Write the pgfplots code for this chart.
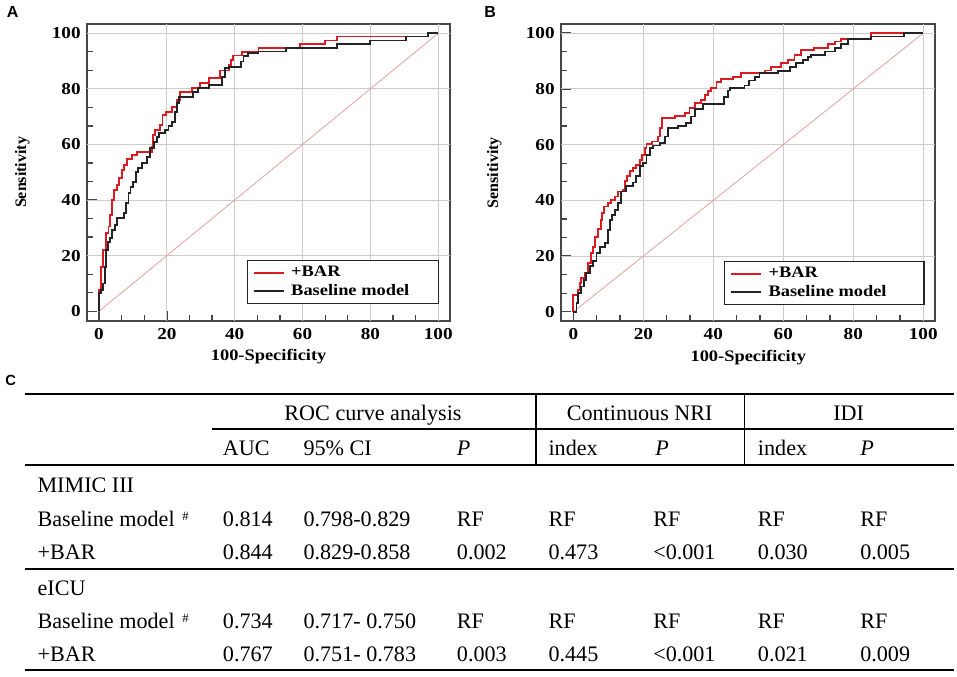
\documentclass[border=0pt]{standalone}
\usepackage{fontspec}
\setmainfont{Liberation Serif}
\newfontfamily\plotfont[FakeStretch=1.15]{Liberation Serif}
\newfontfamily\panelfont{Liberation Sans}
\usepackage{pgfplots}
\pgfplotsset{compat=1.18}

\definecolor{rocred}{RGB}{218,28,34}
\definecolor{rocblack}{RGB}{35,35,35}
\definecolor{diag}{RGB}{226,160,160}
\definecolor{frame}{RGB}{70,70,70}

\pgfplotsset{
  rocaxis/.style={
    scale only axis, anchor=south west,
    xmin=-3.45, xmax=103.45, ymin=-3.4, ymax=103.3,
    xtick={0,20,...,100}, ytick={0,20,...,100}, minor tick num=2,
    tick align=inside, tick pos=left,
    major tick length=7.5pt, minor tick length=4.5pt,
    axis line style={draw=frame, line width=1.4pt},
    every tick/.append style={draw=frame, line width=1pt},
    extra x ticks={20,40,60,80,100}, extra y ticks={20,40,60,80,100},
    extra x tick labels={}, extra y tick labels={},
    extra tick style={grid=major, major tick length=0pt},
    major grid style={draw=black!20, line width=0.7pt},
    ticklabel style={font=\plotfont\bfseries\fontsize{12.5pt}{14pt}\selectfont},
    /pgf/number format/assume math mode=true,
    xticklabel style={yshift=-2pt},
    yticklabel style={xshift=-1.5pt},
    xlabel={100-Specificity}, ylabel={Sensitivity},
    xlabel style={font=\plotfont\bfseries\fontsize{12pt}{14pt}\selectfont,
      at={(axis description cs:0.5,0)}, anchor=north, inner sep=0pt, yshift=-21.5pt},
    ylabel style={font=\bfseries\fontsize{12pt}{14pt}\selectfont,
      at={(axis description cs:-0.179,0.5)}, anchor=center, inner sep=0pt},
    legend cell align=left,
    legend image code/.code={\draw[##1, line width=1.4pt] (0pt,0pt) -- (22.5pt,0pt);},
    legend style={anchor=south west, draw=rocblack, line width=1pt,
      font=\plotfont\bfseries\fontsize{12pt}{14pt}\selectfont,
      inner xsep=4pt, inner ysep=2.5pt, column sep=3pt},
  }
}

\tikzset{
  tab/.style={anchor=base west, inner sep=0pt, font=\fontsize{16.6pt}{18pt}\selectfont},
  tabc/.style={anchor=base, inner sep=0pt, font=\fontsize{16.6pt}{18pt}\selectfont},
  hash/.style={anchor=base west, inner sep=0pt, font=\fontsize{9.5pt}{9.5pt}\selectfont},
}

\begin{document}
\begin{tikzpicture}[x=0.75pt, y=0.75pt]
\path[use as bounding box] (0,0) rectangle (957,676);

% panel A
\begin{axis}[rocaxis, at={(65.475pt,266.475pt)}, width=272pt, height=222.5pt,
  legend style={at={(0.4395,0.0563)}}]
\addplot[diag, line width=0.6pt, forget plot] coordinates {(0,0) (100,100)};
\addplot[rocred, line width=1.4pt, const plot] coordinates {
(0,0) (0,7.7) (0.6,16) (1.3,22) (2,28) (2.8,30.5) (3.2,34.6) (3.9,40) (4.5,43.6)
(5.2,45.4) (5.9,47.8) (6.7,50.8) (7.4,52.6) (8.2,54.7) (9.8,56.2) (11.3,57.4)
(15.5,59.2) (16,63.4) (16.5,65.2) (18,67) (18.7,70.6) (19.7,71.8) (21.4,73.4)
(22.9,76) (23.9,78.7) (27.5,80.2) (29.8,82) (32.3,83.8) (35.7,86.6) (38.2,88.6)
(38.9,90.4) (39.6,92) (42.1,93.2) (47,94.6) (59.3,96.2) (66.7,97.4) (70.1,98.8)
(97,100) (100,100)};
\addlegendentry{+BAR}
\addplot[rocblack, line width=1.4pt, const plot] coordinates {
(0,0) (0,6.5) (0.6,7.7) (1.3,10) (1.8,16) (2,22) (2.6,25) (3.2,26.3) (3.9,29.3)
(4.7,31) (5.4,33.5) (7.4,35.3) (8,38.8) (8.7,42.4) (9.3,44.8) (10.1,46.6)
(10.9,50.2) (11.6,51.4) (12.6,53.2) (14.1,55.6) (15,58.6) (16.2,61) (17.2,62.8)
(17.8,64) (19.5,65.2) (20.5,66.7) (21.4,68.2) (22.4,71.8) (22.9,74.8) (23.7,77.2)
(27.8,78.7) (29.3,80.2) (32.3,81.4) (36.2,84.4) (37.2,87.4) (38.2,88) (41.8,89.8)
(42.6,91.8) (43.8,92.8) (47,93.4) (55.2,94.8) (70.1,96) (79.9,97.4) (90.6,98.8)
(97,100) (100,100)};
\addlegendentry{Baseline model\rule{16pt}{0pt}}
\end{axis}

% panel B
\begin{axis}[rocaxis, at={(420.975pt,266.025pt)}, width=280.5pt, height=223pt,
  legend style={at={(0.435,0.055)}}]
\addplot[diag, line width=0.6pt, forget plot] coordinates {(0,0) (100,100)};
\addplot[rocred, line width=1.4pt, const plot] coordinates {
(0,0) (0,6.1) (1.3,7.9) (1.8,10.3) (2.3,12.1) (3.2,13.9) (4.2,17.5) (5.1,21)
(5.6,23.4) (6.3,26.8) (7,29.8) (7.8,32.8) (8.2,35.4) (8.8,37.8) (9.9,39)
(10.7,40.2) (11.8,41.4) (12.8,43.2) (14.2,43.8) (14.7,46.8) (15.4,48.6)
(16.1,50.4) (17,51.6) (18,52.8) (19,54.5) (19.6,56.3) (20.4,58.7) (20.9,60.3)
(22.5,61.1) (24.2,62.9) (24.7,65.9) (25.3,69.5) (29,70.3) (31.8,71.3) (33.2,73)
(34.7,74.9) (36.6,76.1) (37.5,77.9) (38.5,79.1) (39.4,80.3) (40.9,82.4)
(42.3,83.4) (45.6,84.2) (48,85.6) (54.7,86.6) (56.6,88) (59.4,89.2) (61.3,90.4)
(63.2,92.2) (65.1,94) (68.9,94.6) (72.7,96.1) (74.7,97) (76.6,97.8) (85.1,100)
(100,100)};
\addlegendentry{+BAR}
\addplot[rocblack, line width=1.4pt, const plot] coordinates {
(0,0) (0.9,3.1) (1.3,6.7) (2.3,9.1) (3,11.5) (3.7,13.9) (4.7,16.3) (5.6,18.1)
(6.6,21) (7.5,23.4) (9,24.6) (9.8,29.4) (10.5,33) (11,34.8) (11.8,36.6)
(12.8,39) (13.7,43.2) (15.1,45) (17,46.4) (18,48.6) (19,52.2) (20,53.4)
(20.9,56.3) (21.9,58.7) (22.8,59.7) (24.7,60.5) (26.1,62.9) (27,65.9)
(29.9,66.7) (32.3,67.7) (33.5,70.1) (34.7,72.7) (37,74.6) (43.1,77) (44.3,79.4)
(44.8,80.4) (48.9,81.2) (50.3,83) (51.8,84.2) (53.2,85.6) (58.5,86.4) (61.8,88)
(63.7,89.2) (65.6,90.4) (67,91.6) (68,92.2) (71.8,93.4) (74.7,94.6) (76.6,96.2)
(78.6,97.8) (85.1,98.8) (94.6,100) (100,100)};
\addlegendentry{Baseline model\rule{22pt}{0pt}}
\end{axis}

% panel letters
\node[anchor=north west, inner sep=0pt, font=\panelfont\bfseries\fontsize{12pt}{12pt}\selectfont] at (6.7,669.3) {A};
\node[anchor=north west, inner sep=0pt, font=\panelfont\bfseries\fontsize{12pt}{12pt}\selectfont] at (484,669.3) {B};
\node[anchor=north west, inner sep=0pt, font=\panelfont\bfseries\fontsize{11pt}{11pt}\selectfont] at (5,301) {C};

% table C rules
\draw[line width=1.5pt] (25,281.7) -- (954,281.7);
\draw[line width=1.1pt] (211.7,247) -- (954,247);
\draw[line width=1.5pt] (25,211) -- (954,211);
\draw[line width=1.1pt] (25,107) -- (954,107);
\draw[line width=1.5pt] (25,6) -- (954,6);
\draw[line width=1.2pt] (536,281.7) -- (536,211);
\draw[line width=1.2pt] (744.3,281.7) -- (744.3,211);

% table C headers
\node[tabc] at (373,256) {ROC curve analysis};
\node[tabc] at (639.7,256) {Continuous NRI};
\node[tabc] at (848.7,256) {IDI};
\node[tab] at (222.7,220.3) {AUC};
\node[tab] at (303.3,220.3) {95\% CI};
\node[tab] at (456.7,220.3) {\textit{P}};
\node[tab] at (548.3,220.3) {index};
\node[tab] at (655,220.3) {\textit{P}};
\node[tab] at (757.7,220.3) {index};
\node[tab] at (860,220.3) {\textit{P}};

% table C body
\node[tab] at (37.3,183.3) {MIMIC III};
\node[tab] at (37.3,150) {Baseline model};
\node[hash] at (182,156) {\#};
\node[tab] at (222.7,150) {0.814};
\node[tab] at (303.3,150) {0.798-0.829};
\node[tab] at (456.7,150) {RF};
\node[tab] at (548.3,150) {RF};
\node[tab] at (653,150) {RF};
\node[tab] at (757.7,150) {RF};
\node[tab] at (860,150) {RF};
\node[tab] at (37.3,116.7) {+BAR};
\node[tab] at (222.7,116.7) {0.844};
\node[tab] at (303.3,116.7) {0.829-0.858};
\node[tab] at (456.7,116.7) {0.002};
\node[tab] at (548.3,116.7) {0.473};
\node[tab] at (653,116.7) {<0.001};
\node[tab] at (757.7,116.7) {0.030};
\node[tab] at (860,116.7) {0.005};

\node[tab] at (37.3,81) {eICU};
\node[tab] at (37.3,47.7) {Baseline model};
\node[hash] at (182,53.7) {\#};
\node[tab] at (222.7,47.7) {0.734};
\node[tab] at (303.3,47.7) {0.717- 0.750};
\node[tab] at (456.7,47.7) {RF};
\node[tab] at (548.3,47.7) {RF};
\node[tab] at (653,47.7) {RF};
\node[tab] at (757.7,47.7) {RF};
\node[tab] at (860,47.7) {RF};
\node[tab] at (37.3,14.3) {+BAR};
\node[tab] at (222.7,14.3) {0.767};
\node[tab] at (303.3,14.3) {0.751- 0.783};
\node[tab] at (456.7,14.3) {0.003};
\node[tab] at (548.3,14.3) {0.445};
\node[tab] at (653,14.3) {<0.001};
\node[tab] at (757.7,14.3) {0.021};
\node[tab] at (860,14.3) {0.009};
\end{tikzpicture}
\end{document}
